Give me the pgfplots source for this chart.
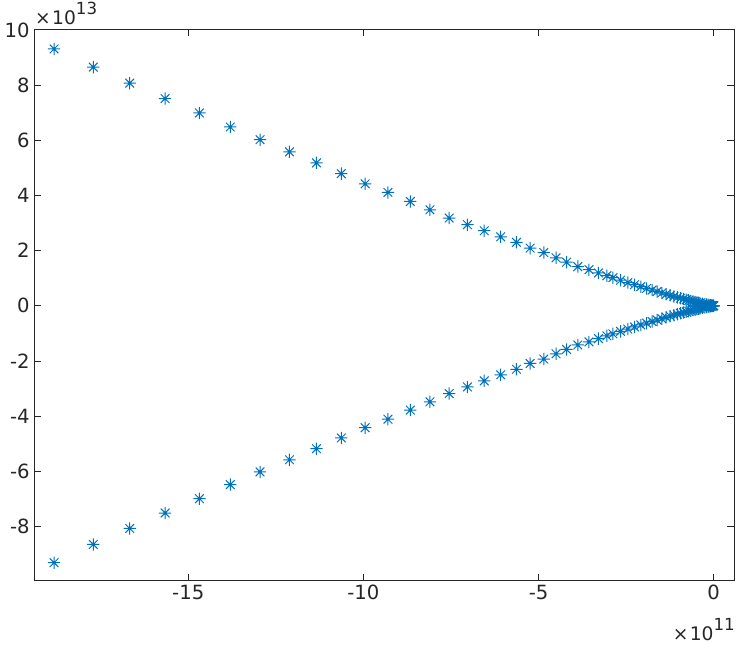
\documentclass[border=0pt]{standalone}
\usepackage{pgfplots}
\pgfplotsset{compat=1.18}
\usepackage{fontspec}
\setmainfont{DejaVu Sans}
\definecolor{axcol}{rgb}{0.15,0.15,0.15}
\definecolor{mblue}{rgb}{0,0.447,0.741}
\pgfdeclareplotmark{mstar}{%
 \pgfpathmoveto{\pgfqpoint{-\pgfplotmarksize}{0pt}}\pgfpathlineto{\pgfqpoint{\pgfplotmarksize}{0pt}}%
 \pgfpathmoveto{\pgfqpoint{0pt}{-\pgfplotmarksize}}\pgfpathlineto{\pgfqpoint{0pt}{\pgfplotmarksize}}%
 \pgfpathmoveto{\pgfqpoint{-0.707\pgfplotmarksize}{-0.707\pgfplotmarksize}}\pgfpathlineto{\pgfqpoint{0.707\pgfplotmarksize}{0.707\pgfplotmarksize}}%
 \pgfpathmoveto{\pgfqpoint{-0.707\pgfplotmarksize}{0.707\pgfplotmarksize}}\pgfpathlineto{\pgfqpoint{0.707\pgfplotmarksize}{-0.707\pgfplotmarksize}}%
 \pgfusepathqstroke}
\pgfplotstableread{
x y
-18.83 9.31
-17.71 8.65
-16.67 8.07
-15.66 7.51
-14.68 6.99
-13.80 6.48
-12.95 6.02
-12.11 5.58
-11.34 5.18
-10.63 4.79
-9.95 4.42
-9.30 4.11
-8.66 3.78
-8.10 3.48
-7.55 3.18
-7.03 2.94
-6.55 2.72
-6.08 2.50
-5.63 2.30
-5.24 2.09
-4.85 1.93
-4.50 1.74
-4.20 1.58
-3.88 1.42
-3.56 1.31
-3.29 1.19
-3.05 1.09
-2.878 1.018
-2.659 0.927
-2.452 0.843
-2.259 0.765
-2.081 0.694
-1.915 0.630
-1.759 0.570
-1.616 0.515
-1.481 0.465
-1.357 0.419
-1.242 0.378
-1.136 0.340
-1.037 0.305
-0.946 0.274
-0.862 0.246
-0.785 0.220
-0.713 0.196
-0.648 0.175
-0.587 0.156
-0.532 0.139
-0.481 0.123
-0.434 0.109
-0.391 0.097
-0.317 0.075
-0.255 0.058
-0.204 0.045
-0.161 0.034
-0.127 0.026
-0.087 0.017
-0.059 0.010
-0.034 0.005
-0.016 0.002
0 0
}\upperdata
\pgfplotstableread{
x y
-18.83 -9.31
-17.71 -8.65
-16.67 -8.07
-15.66 -7.51
-14.68 -6.99
-13.80 -6.48
-12.95 -6.02
-12.11 -5.58
-11.34 -5.18
-10.63 -4.79
-9.95 -4.42
-9.30 -4.11
-8.66 -3.78
-8.10 -3.48
-7.55 -3.18
-7.03 -2.94
-6.55 -2.72
-6.08 -2.50
-5.63 -2.30
-5.24 -2.09
-4.85 -1.93
-4.50 -1.74
-4.20 -1.58
-3.88 -1.42
-3.56 -1.31
-3.29 -1.19
-3.05 -1.09
-2.878 -1.018
-2.659 -0.927
-2.452 -0.843
-2.259 -0.765
-2.081 -0.694
-1.915 -0.630
-1.759 -0.570
-1.616 -0.515
-1.481 -0.465
-1.357 -0.419
-1.242 -0.378
-1.136 -0.340
-1.037 -0.305
-0.946 -0.274
-0.862 -0.246
-0.785 -0.220
-0.713 -0.196
-0.648 -0.175
-0.587 -0.156
-0.532 -0.139
-0.481 -0.123
-0.434 -0.109
-0.391 -0.097
-0.317 -0.075
-0.255 -0.058
-0.204 -0.045
-0.161 -0.034
-0.127 -0.026
-0.087 -0.017
-0.059 -0.010
-0.034 -0.005
-0.016 -0.002
0 0
}\lowerdata
\begin{document}
\begin{tikzpicture}
\begin{axis}[
 scale only axis, width=524.8pt, height=413.25pt,
 xmin=-19.395, xmax=0.58, ymin=-9.95, ymax=10.02,
 axis line style={draw=axcol, line width=0.6pt},
 tick align=inside, major tick length=5pt,
 tick style={draw=axcol, line width=0.6pt},
 xtick={-15,-10,-5,0}, xticklabels={-15,-10,-5,0},
 ytick={-8,-6,-4,-2,0,2,4,6,8,10}, yticklabels={-8,-6,-4,-2,0,2,4,6,8,10},
 ticklabel style={font=\fontsize{14.7}{17}\selectfont, text=axcol},
 scaled ticks=false,
]
\addplot[only marks, mark=mstar, mark size=4.6pt, color=mblue, line width=0.75pt] table[x=x,y=y] {\upperdata};
\addplot[only marks, mark=mstar, mark size=4.6pt, color=mblue, line width=0.75pt] table[x=x,y=y] {\lowerdata};
\end{axis}
\node[anchor=base west, text=axcol, inner sep=0pt] at ([xshift=0.5pt,yshift=3.5pt]current axis.north west) {\fontsize{14}{16}\selectfont ×\kern1pt10\raisebox{7.5pt}{\fontsize{12.5}{14}\selectfont 13}};
\node[anchor=base east, text=axcol, inner sep=0pt] at ([xshift=0.75pt,yshift=-45pt]current axis.south east) {\fontsize{14}{16}\selectfont ×\kern1pt10\raisebox{7.5pt}{\fontsize{12.5}{14}\selectfont 11}};
\pgfresetboundingbox
\path[use as bounding box] ([xshift=-25.7pt,yshift=-47.8pt]current axis.south west) rectangle ([xshift=2.25pt,yshift=22pt]current axis.north east);
\end{tikzpicture}
\end{document}
